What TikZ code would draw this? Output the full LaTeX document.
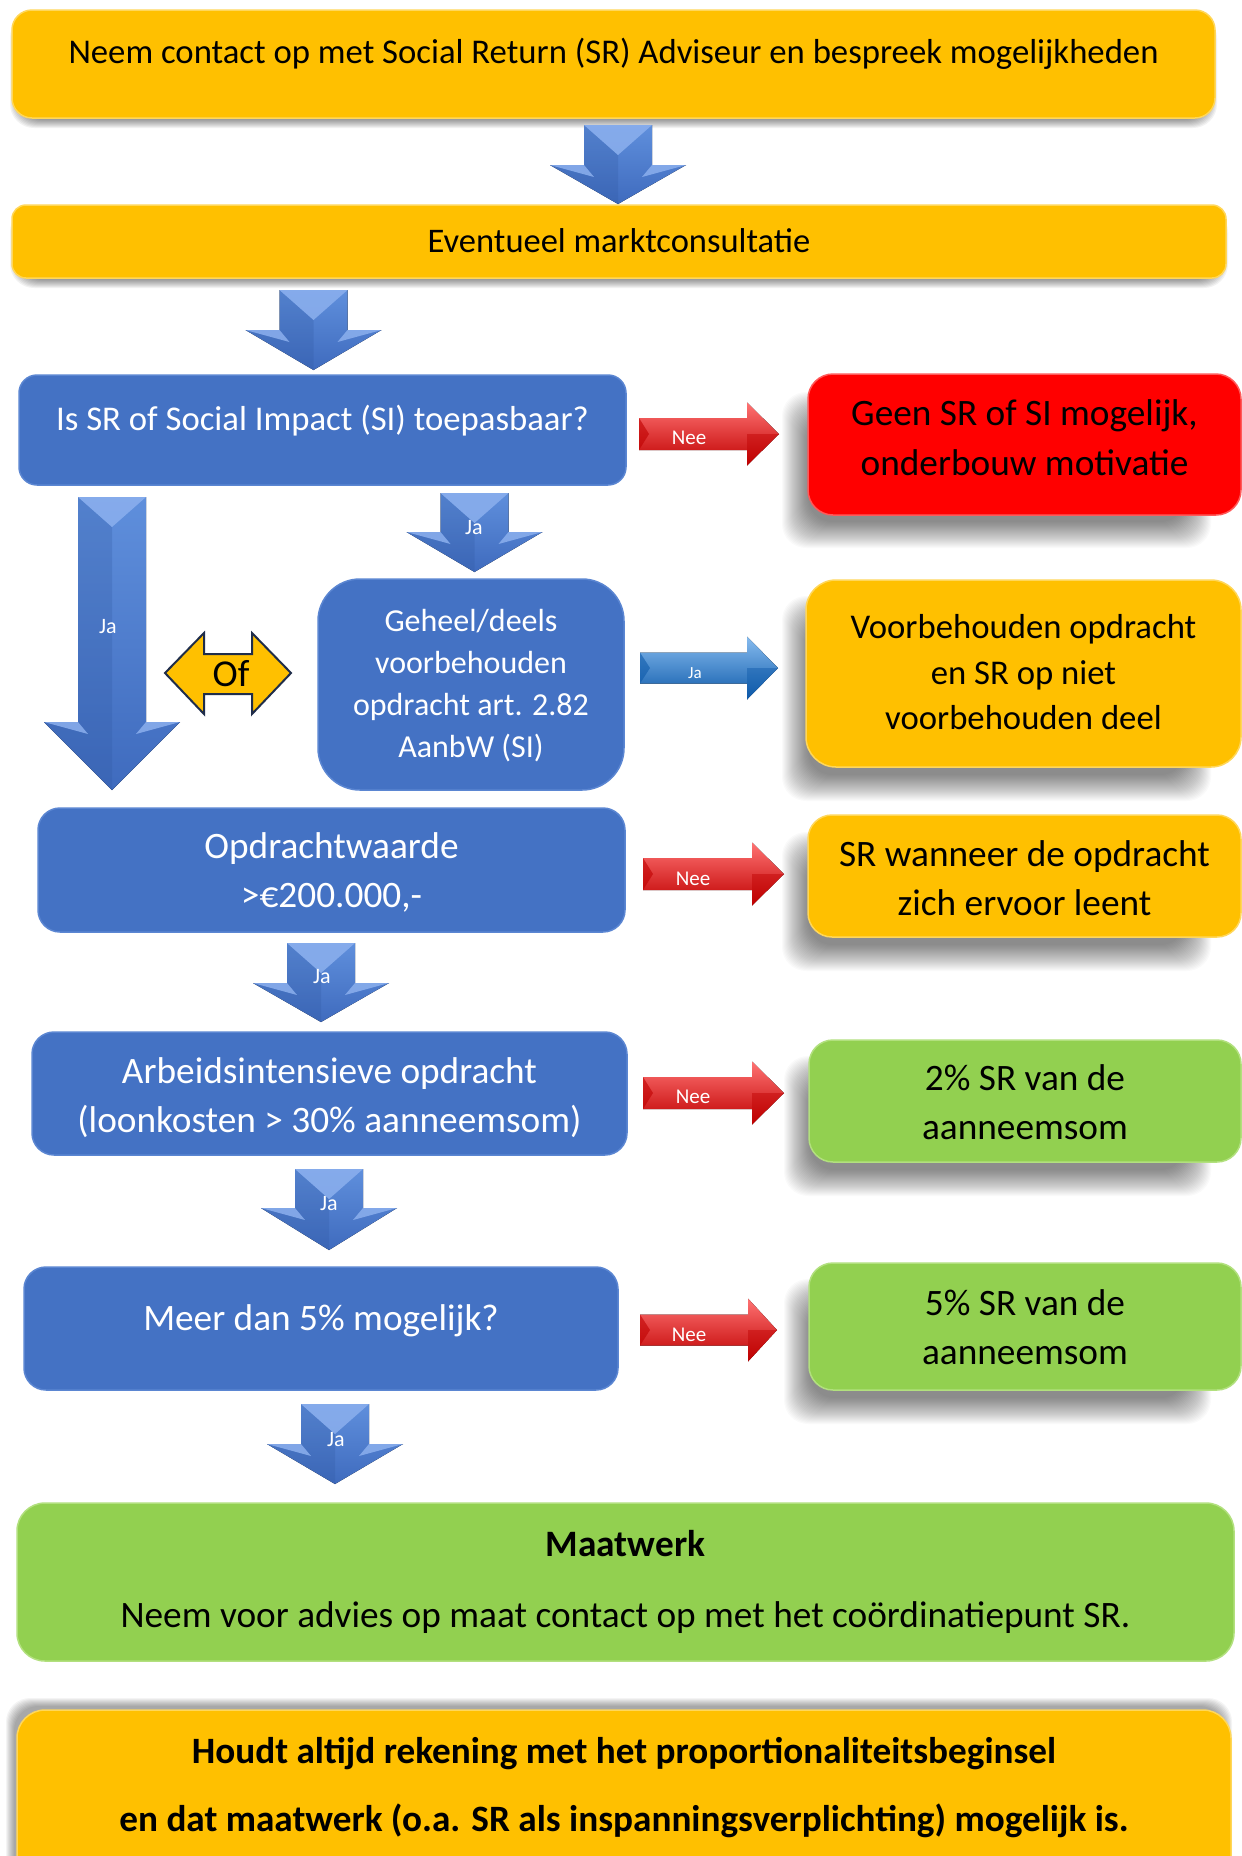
\documentclass[tikz,border=0pt]{standalone}
\usepackage{fontspec}
\setmainfont{Carlito}
\usetikzlibrary{calc}
\definecolor{orng}{HTML}{FFC000}
\definecolor{orngE}{HTML}{FFD75A}
\definecolor{blu}{HTML}{4472C4}
\definecolor{bluE}{HTML}{5B86D2}
\definecolor{rd}{HTML}{FF0000}
\definecolor{rdE}{HTML}{FF5A5A}
\definecolor{grn}{HTML}{92D050}
\definecolor{grnE}{HTML}{B2E07E}
\definecolor{arrtop}{HTML}{5F8FDC}
\definecolor{arrbot}{HTML}{3F6BBE}
\definecolor{arrlight}{HTML}{8CB0EE}
\definecolor{arrdark}{HTML}{2F57A0}
\definecolor{ofline}{HTML}{1F2D4A}
\definecolor{rarrA}{HTML}{2585E2}
\definecolor{rarrB}{HTML}{0E5AAA}
\newcommand\dnarrow[4]{%
  \fill[top color=arrtop, bottom color=arrbot] ({#1-34},#2) -- ({#1+34},#2) -- ({#1+34},#3) -- ({#1+68},#3) -- (#1,#4) -- ({#1-68},#3) -- ({#1-34},#3) -- cycle;
  \fill[arrdark, opacity=.25] ({#1-34},#2) -- (#1,{#2+30}) -- (#1,#4) -- ({#1-68},#3) -- ({#1-34},#3) -- cycle;
  \fill[arrlight, opacity=.85] ({#1-34},#2) -- ({#1+34},#2) -- (#1,{#2+30}) -- cycle;
  \fill[arrlight, opacity=.85] ({#1-68},#3) -- ({#1-34},#3) -- ({#1-24},{#3+12}) -- cycle;
  \fill[arrlight, opacity=.85] ({#1+68},#3) -- ({#1+34},#3) -- ({#1+24},{#3+12}) -- cycle;
}
\newcommand\rtarrow[8]{%
  \fill[top color=#7!55!white, middle color=#7, bottom color=#8] (#1,{#4-#5}) -- (#2,{#4-#5}) -- (#2,{#4-#6}) -- (#3,#4) -- (#2,{#4+#6}) -- (#2,{#4+#5}) -- (#1,{#4+#5}) -- cycle;
  \fill[#8, opacity=.6] (#1,{#4-#5}) -- ({#1+10},#4) -- (#1,{#4+#5}) -- cycle;
  \fill[#8, opacity=.45] (#2,#4) -- (#3,#4) -- (#2,{#4+#6}) -- cycle;
}
% soft shadow: core rectangle x1 y1 x2 y2, number of layers, step, opacity per layer
\newcommand\softsh[7]{%
  \foreach \i in {0,...,#5} {%
    \fill[black, opacity=#7, rounded corners=24pt]
      ({#1-\i*#6},{#2-\i*#6}) rectangle ({#3+\i*#6},{#4+\i*#6});
  }%
}
\tikzset{
  bx/.style={rectangle, inner sep=0pt, line width=1.5pt},
  obox/.style={bx, fill=orng, draw=orngE},
  bbox/.style={bx, fill=blu, draw=bluE},
  rbox/.style={bx, fill=rd, draw=rdE},
  gbox/.style={bx, fill=grn, draw=grnE},
  tb/.style={anchor=base, inner sep=0pt, font=\fontsize{37.3}{42}\selectfont},
  ts/.style={anchor=base, inner sep=0pt, font=\fontsize{34.7}{40}\selectfont},
  tw/.style={tb, text=white},
  lbl/.style={anchor=base, inner sep=0pt, text=white, font=\fontsize{22}{26}\selectfont},
  nlbl/.style={anchor=base, inner sep=0pt, text=white, font=\fontsize{21}{24}\selectfont},
}
\begin{document}
\begin{tikzpicture}[x=1pt,y=-1pt]
\useasboundingbox (0,0) rectangle (1242,1856);
\clip (0,0) rectangle (1242,1856);
\fill[white] (0,0) rectangle (1242,1856);

% shadows
\softsh{18}{22}{1209}{120}{8}{1}{0.05}
\softsh{18}{216}{1220}{280}{8}{1}{0.05}
\softsh{808}{418}{1185}{522}{26}{1}{0.02}
\softsh{808}{622}{1185}{775}{26}{1}{0.02}
\softsh{808}{858}{1185}{945}{26}{1}{0.02}
\softsh{810}{1082}{1185}{1170}{26}{1}{0.02}
\softsh{810}{1305}{1185}{1398}{26}{1}{0.02}
\softsh{14}{1706}{1224}{1900}{8}{1}{0.045}

% boxes
\node[obox, rounded corners=20pt, minimum width=1203pt, minimum height=108pt] (b1) at (613.5,64) {};
\node[obox, rounded corners=14pt, minimum width=1214pt, minimum height=73pt] (b2) at (619,241.5) {};
\node[bbox, rounded corners=18pt, minimum width=607pt, minimum height=110pt] (b3) at (322.5,430) {};
\node[rbox, rounded corners=25pt, minimum width=433pt, minimum height=141pt] (b4) at (1024.5,444.5) {};
\node[bbox, rounded corners=42pt, minimum width=306pt, minimum height=211pt] (b5) at (471,684.5) {};
\node[obox, rounded corners=30pt, minimum width=435pt, minimum height=187pt] (b6) at (1023.5,673.5) {};
\node[bbox, rounded corners=22pt, minimum width=587pt, minimum height=124pt] (b7) at (331.5,870) {};
\node[obox, rounded corners=24pt, minimum width=433pt, minimum height=122pt] (b8) at (1024.5,876) {};
\node[bbox, rounded corners=22pt, minimum width=595pt, minimum height=123pt] (b9) at (329.5,1093.5) {};
\node[gbox, rounded corners=24pt, minimum width=432pt, minimum height=122pt] (b10) at (1025,1101) {};
\node[bbox, rounded corners=22pt, minimum width=594pt, minimum height=123pt] (b11) at (321,1328.5) {};
\node[gbox, rounded corners=24pt, minimum width=432pt, minimum height=127pt] (b12) at (1025,1326.5) {};
\node[gbox, rounded corners=28pt, minimum width=1217pt, minimum height=158pt] (b13) at (625.5,1582) {};
\node[obox, rounded corners=28pt, minimum width=1214pt, minimum height=190pt] (b14) at (624,1805) {};

% texts
\node[ts] (t1) at (613.5,63) {Neem contact op met Social Return (SR) Adviseur en bespreek mogelijkheden};
\node[ts, font=\fontsize{34.5}{40}\selectfont] (t2) at (619,252) {Eventueel marktconsultatie};
\node[ts, text=white] (t3) at (322.5,430) {Is SR of Social Impact (SI) toepasbaar?};
\node[tb] (t4a) at (1024.5,425) {Geen SR of SI mogelijk,};
\node[tb] (t4b) at (1024.5,475) {onderbouw motivatie};
\node[tw, font=\fontsize{32}{38}\selectfont] (t5a) at (471,631) {Geheel/deels};
\node[tw, font=\fontsize{32}{38}\selectfont] (t5b) at (471,673) {voorbehouden};
\node[tw, font=\fontsize{32}{38}\selectfont] (t5c) at (471,715) {opdracht art. 2.82};
\node[tw, font=\fontsize{32}{38}\selectfont] (t5d) at (471,757) {AanbW (SI)};
\node[ts] (t6a) at (1023.5,638) {Voorbehouden opdracht};
\node[ts] (t6b) at (1023.5,684) {en SR op niet};
\node[ts] (t6c) at (1023.5,729) {voorbehouden deel};
\node[tw] (t7a) at (331.5,858) {Opdrachtwaarde};
\node[tw] (t7b) at (331.5,907) {>€200.000,-};
\node[tb] (t8a) at (1024.5,866) {SR wanneer de opdracht};
\node[tb] (t8b) at (1024.5,915) {zich ervoor leent};
\node[tw] (t9a) at (329.5,1083) {Arbeidsintensieve opdracht};
\node[tw] (t9b) at (329.5,1132) {(loonkosten > 30\% aanneemsom)};
\node[tb] (t10a) at (1025,1090) {2\% SR van de};
\node[tb] (t10b) at (1025,1139) {aanneemsom};
\node[tw] (t11) at (321,1330) {Meer dan 5\% mogelijk?};
\node[tb] (t12a) at (1025,1315) {5\% SR van de};
\node[tb] (t12b) at (1025,1364) {aanneemsom};
\node[tb, font=\fontsize{37.3}{42}\selectfont\bfseries] (t13a) at (625.5,1556) {Maatwerk};
\node[tb] (t13b) at (625.5,1627) {Neem voor advies op maat contact op met het coördinatiepunt SR.};
\node[tb, font=\fontsize{37.2}{42}\selectfont\bfseries] (t14a) at (624,1763) {Houdt altijd rekening met het proportionaliteitsbeginsel};
\node[tb, font=\fontsize{37.2}{42}\selectfont\bfseries] (t14b) at (624,1831) {en dat maatwerk (o.a. SR als inspanningsverplichting) mogelijk is.};

% down block arrows
\dnarrow{618}{125}{165}{204}
\dnarrow{313.5}{290}{330}{370}
\dnarrow{474.5}{493}{532}{572}
\dnarrow{112}{497}{722}{790}
\dnarrow{321}{943}{983}{1022}
\dnarrow{329}{1169}{1208}{1250}
\dnarrow{335}{1404}{1444}{1484}
\node[lbl] (ja1) at (474,534) {Ja};
\node[lbl] (ja2) at (108,633) {Ja};
\node[lbl] (ja3) at (322,983) {Ja};
\node[lbl] (ja4) at (329,1210) {Ja};
\node[lbl] (ja5) at (336,1446) {Ja};

% right block arrows
\rtarrow{639}{747}{779}{434}{16}{31.5}{rd}{rd!75!black}
\rtarrow{640}{747}{778}{668}{15.5}{31.5}{rarrA}{rarrB}
\rtarrow{643}{752}{784}{874}{16}{31.5}{rd}{rd!75!black}
\rtarrow{643}{752}{784}{1093}{16}{31.5}{rd}{rd!75!black}
\rtarrow{640}{748}{777}{1330}{15.5}{31.5}{rd}{rd!75!black}
\node[nlbl] (nee1) at (689,444) {Nee};
\node[nlbl, font=\fontsize{17}{20}\selectfont] (jab) at (695,678) {Ja};
\node[nlbl] (nee2) at (693,885) {Nee};
\node[nlbl] (nee3) at (693,1103) {Nee};
\node[nlbl] (nee4) at (689,1341) {Nee};

% Of double arrow
\draw[fill=orng, draw=ofline, line width=2pt, line join=miter]
  (165,673) -- (204,633) -- (204,654) -- (252,654) -- (252,633) -- (291,673)
  -- (252,714) -- (252,694) -- (204,694) -- (204,714) -- cycle;
\node[anchor=base, inner sep=0pt, font=\fontsize{38}{42}\selectfont] (of) at (231,686) {Of};
\end{tikzpicture}
\end{document}
